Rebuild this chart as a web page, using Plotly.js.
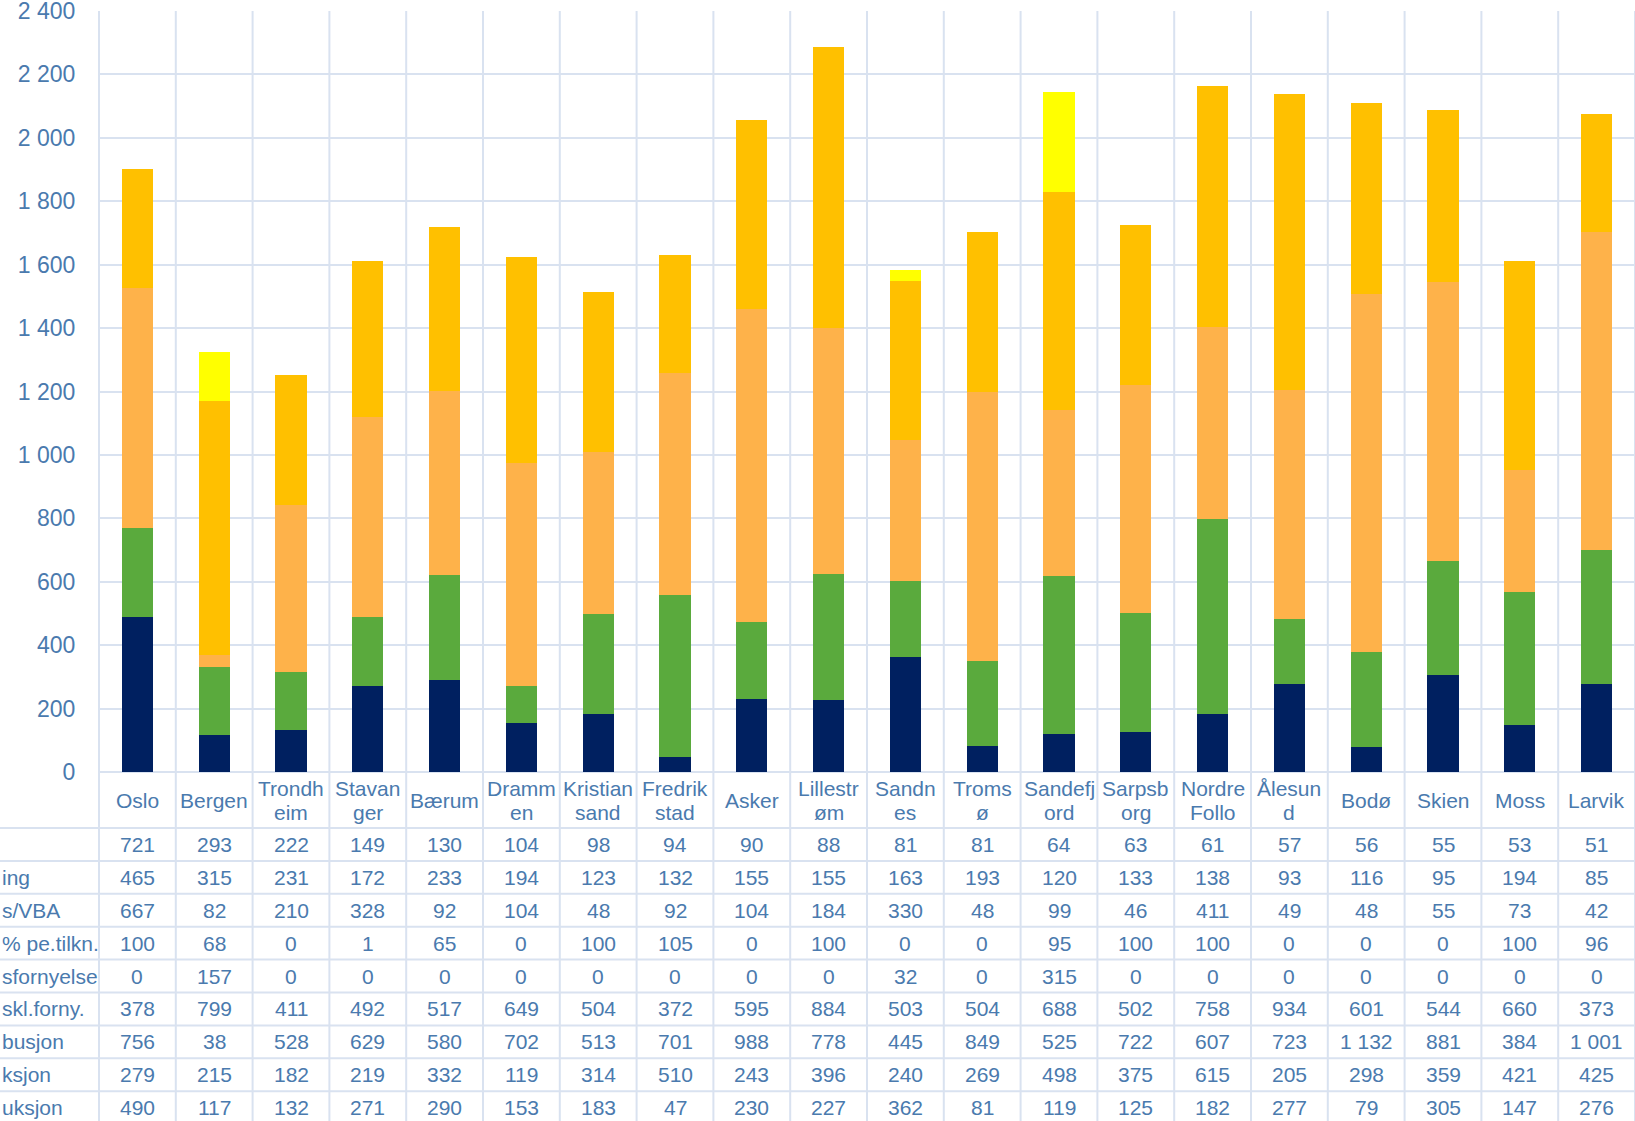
<!DOCTYPE html>
<html>
<head>
<meta charset="utf-8">
<script src="https://cdn.plot.ly/plotly-3.0.1.min.js"></script>
<style>
  html, body { margin: 0; padding: 0; background: #ffffff; overflow: hidden; }
  #chart { width: 1635px; height: 1121px; }
</style>
</head>
<body>
<div id="chart"></div>
<script>
// ---- Data ----
const categories = ["Oslo", "Bergen", "Trondheim", "Stavanger", "Bærum", "Drammen", "Kristiansand", "Fredrikstad", "Asker", "Lillestrøm", "Sandnes", "Tromsø", "Sandefjord", "Sarpsborg", "Nordre Follo", "Ålesund", "Bodø", "Skien", "Moss", "Larvik"];
const categoryLabels = ["Oslo", "Bergen", "Trondh|eim", "Stavan|ger", "Bærum", "Dramm|en", "Kristian|sand", "Fredrik|stad", "Asker", "Lillestr|øm", "Sandn|es", "Troms|ø", "Sandefj|ord", "Sarpsb|org", "Nordre|Follo", "Ålesun|d", "Bodø", "Skien", "Moss", "Larvik"];

// Table rows (visible, left-cropped row labels as in the reference)
const rowLabels = ["", "ing", "s/VBA", "% pe.tilkn.", "sfornyelse", "skl.forny.", "busjon", "ksjon", "uksjon"];

const row1 = [721, 293, 222, 149, 130, 104, 98, 94, 90, 88, 81, 81, 64, 63, 61, 57, 56, 55, 53, 51];
const row2 = [465, 315, 231, 172, 233, 194, 123, 132, 155, 155, 163, 193, 120, 133, 138, 93, 116, 95, 194, 85];
const row3 = [667, 82, 210, 328, 92, 104, 48, 92, 104, 184, 330, 48, 99, 46, 411, 49, 48, 55, 73, 42];
const row4 = [100, 68, 0, 1, 65, 0, 100, 105, 0, 100, 0, 0, 95, 100, 100, 0, 0, 0, 100, 96];
const fornyelse = [0, 157, 0, 0, 0, 0, 0, 0, 0, 0, 32, 0, 315, 0, 0, 0, 0, 0, 0, 0];
const inklForny = [378, 799, 411, 492, 517, 649, 504, 372, 595, 884, 503, 504, 688, 502, 758, 934, 601, 544, 660, 373];
const distribusjon = [756, 38, 528, 629, 580, 702, 513, 701, 988, 778, 445, 849, 525, 722, 607, 723, 1132, 881, 384, 1001];
const seksjon = [279, 215, 182, 219, 332, 119, 314, 510, 243, 396, 240, 269, 498, 375, 615, 205, 298, 359, 421, 425];
const produksjon = [490, 117, 132, 271, 290, 153, 183, 47, 230, 227, 362, 81, 119, 125, 182, 277, 79, 305, 147, 276];

const tableRows = [row1, row2, row3, row4, fornyelse, inklForny, distribusjon, seksjon, produksjon];

// ---- Styling ----
const W = 1635, H = 1121;
const L = 99, T = 11, B = 772;          // plot area pixel edges
const PW = W - L, PH = B - T;
const FONT = "Liberation Sans, Arial, sans-serif";
const TXT = "#4a7aae";
const GRID = "#d9e2f0";
const rowTop = 828, rowH = 32.9;

const py = p => (B - p) / PH;
const pxx = p => (p - L) / PW;
const fmt = v => String(v).replace(/\B(?=(\d{3})+(?!\d))/g, " ");

const traces = [
  { name: "produksjon", y: produksjon, color: "#002060" },
  { name: "seksjon", y: seksjon, color: "#5aaa3d" },
  { name: "distribusjon", y: distribusjon, color: "#feb24a" },
  { name: "inkl. fornyelse", y: inklForny, color: "#ffc000" },
  { name: "fornyelse", y: fornyelse, color: "#ffff00" }
].map(s => ({
  type: "bar",
  x: categories,
  y: s.y,
  name: s.name,
  marker: { color: s.color, line: { width: 0 } },
  hoverinfo: "x+y+name"
}));

const shapes = [];
// vertical column separators (through chart and table)
for (let i = 0; i <= categories.length; i++) {
  shapes.push({
    type: "line", xref: "paper", yref: "paper",
    x0: i / categories.length, x1: i / categories.length,
    y0: 1, y1: py(H + 20),
    line: { color: GRID, width: 2 }, layer: "below"
  });
}
// table horizontal lines
for (let r = 0; r < tableRows.length; r++) {
  const y = rowTop + r * rowH;
  shapes.push({
    type: "line", xref: "paper", yref: "paper",
    x0: pxx(-5), x1: 1.01, y0: py(y), y1: py(y),
    line: { color: GRID, width: 2 }, layer: "below"
  });
}

const annotations = [];
// category labels
categoryLabels.forEach((lab, i) => {
  const parts = lab.split("|");
  const centers = parts.length === 1 ? [800.5] : [789, 812.5];
  parts.forEach((t, k) => {
    annotations.push({
      xref: "x", yref: "paper", x: categories[i], y: py(centers[k]),
      text: t, showarrow: false, xanchor: "center", yanchor: "middle",
      font: { family: FONT, size: 21, color: TXT }
    });
  });
});
// table values
tableRows.forEach((row, r) => {
  const yc = rowTop + (r + 0.5) * rowH;
  row.forEach((v, i) => {
    annotations.push({
      xref: "x", yref: "paper", x: categories[i], y: py(yc),
      text: fmt(v), showarrow: false, xanchor: "center", yanchor: "middle",
      font: { family: FONT, size: 21, color: TXT }
    });
  });
  if (rowLabels[r]) {
    annotations.push({
      xref: "paper", yref: "paper", x: 0, xshift: -L, y: py(yc),
      text: rowLabels[r], showarrow: false, xanchor: "left", yanchor: "middle",
      font: { family: FONT, size: 21, color: TXT }
    });
  }
});

const layout = {
  width: W, height: H,
  margin: { l: L, r: 0, t: T, b: H - B, pad: 0 },
  paper_bgcolor: "#ffffff",
  plot_bgcolor: "#ffffff",
  barmode: "stack",
  bargap: 0.595,
  showlegend: false,
  separators: ", ",
  font: { family: FONT, color: TXT },
  xaxis: {
    type: "category",
    range: [-0.5, categories.length - 0.5],
    showticklabels: false, showgrid: false, zeroline: false, showline: false,
    ticks: "", fixedrange: true
  },
  yaxis: {
    range: [0, 2400], dtick: 200, tick0: 0,
    separatethousands: true,
    showgrid: true, gridcolor: GRID, gridwidth: 2,
    zeroline: true, zerolinecolor: GRID, zerolinewidth: 2,
    showline: false,
    ticks: "outside", ticklen: 18, tickcolor: "rgba(0,0,0,0)",
    ticklabeloverflow: "allow",
    tickfont: { family: FONT, size: 23, color: TXT },
    fixedrange: true
  },
  shapes: shapes,
  annotations: annotations
};

Plotly.newPlot("chart", traces, layout, { displayModeBar: false, staticPlot: true });
</script>
</body>
</html>
